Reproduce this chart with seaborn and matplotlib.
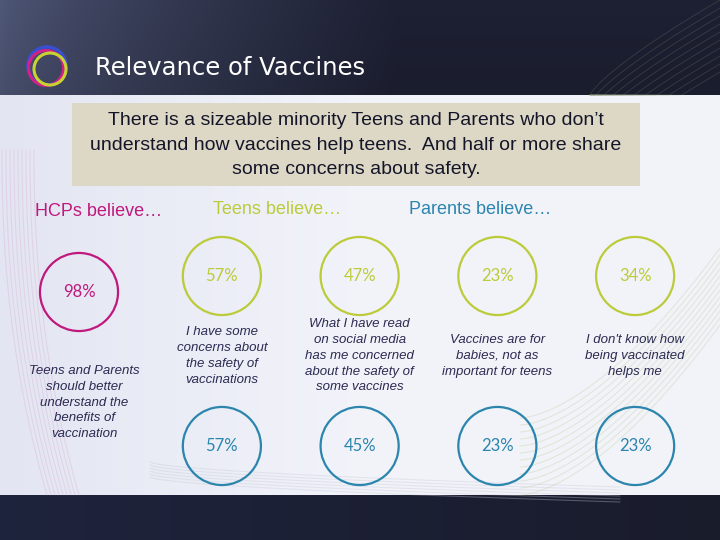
import numpy as np
import pandas as pd
import seaborn as sns
import matplotlib.pyplot as plt
from matplotlib.patches import Rectangle, Circle

# --- slide content ---
slide_title = "Relevance of Vaccines"
headline = ("There is a sizeable minority Teens and Parents who don\u2019t\n"
            "understand how vaccines help teens.  And half or more share\n"
            "some concerns about safety.")

hcp_header = "HCPs believe\u2026"
hcp_statement = "Teens and Parents\nshould better\nunderstand the\nbenefits of\nvaccination"
hcp_pct = [98]

groups = ["Teens", "Parents"]
group_headers = ["Teens believe\u2026", "Parents believe\u2026"]
statements = [
    "I have some\nconcerns about\nthe safety of\nvaccinations",
    "What I have read\non social media\nhas me concerned\nabout the safety of\nsome vaccines",
    "Vaccines are for\nbabies, not as\nimportant for teens",
    "I don't know how\nbeing vaccinated\nhelps me",
]
teens_pct = [57, 47, 23, 34]
parents_pct = [57, 45, 23, 23]

MAGENTA = "#c0187c"
LIME = "#bccb3a"
TEAL = "#2b85ad"
NAVY_TEXT = "#2b2b52"
palette = {"Teens": LIME, "Parents": TEAL}

sns.set_theme(style="white")
plt.rcParams['font.family'] = ['Liberation Sans', 'DejaVu Sans']

fig = plt.figure(figsize=(7.2, 5.4), dpi=100)

# --- background (pixel coords) ---
bg = fig.add_axes([0, 0, 1, 1])
bg.set_xlim(0, 720)
bg.set_ylim(540, 0)
bg.axis('off')

# light middle area
xs = np.linspace(0, 1, 720)
mid_l = np.array([0.89, 0.90, 0.95])
mid_r = np.array([0.95, 0.955, 0.98])
t = np.clip(xs / 0.5, 0, 1)[None, :, None]
mid = mid_l * (1 - t) + mid_r * t
mid = np.repeat(mid, 10, axis=0)
bg.imshow(mid, extent=(0, 720, 495, 95), aspect='auto', zorder=0)

# dark top band
top_l = np.array([0.30, 0.33, 0.45])
top_r = np.array([0.11, 0.12, 0.19])
t = (np.clip(xs / 0.55, 0, 1) ** 0.7)[None, :, None]
ys = np.linspace(0, 1, 95)[:, None, None]
top = top_l * (1 - t) + top_r * t
top = top * (1.05 - 0.1 * ys)
bg.imshow(np.clip(top, 0, 1), extent=(0, 720, 95, 0), aspect='auto', zorder=0)

# dark bottom band
bot_l = np.array([0.12, 0.14, 0.24])
bot_r = np.array([0.10, 0.11, 0.17])
t = xs[None, :, None]
bot = np.repeat(bot_l * (1 - t) + bot_r * t, 5, axis=0)
bg.imshow(bot, extent=(0, 720, 540, 495), aspect='auto', zorder=0)

# decorative swooshes
yy = np.linspace(150, 495, 100)
for k in range(9):
    xx = 2 + k * 4 + 45 * ((yy - 150) / 345) ** 2.2
    bg.plot(xx, yy, color="#d49cc4", alpha=0.25, lw=0.8, zorder=1)
xx = np.linspace(520, 720, 100)
for k in range(12):
    yv = 495 - 170 * ((xx - 520) / 200) ** 1.6 - k * 7
    bg.plot(xx, yv, color="#a9c07a", alpha=0.25, lw=0.8, zorder=1)
xx = np.linspace(150, 620, 100)
for k in range(6):
    yv = 462 + 25 * ((xx - 150) / 470) ** 0.6 + k * 3
    bg.plot(xx, yv, color="#c4c8d6", alpha=0.35, lw=0.8, zorder=1)
xx = np.linspace(590, 720, 60)
for k in range(10):
    yv = 95 - 95 * ((xx - 590) / 130) ** 0.8 + k * 8
    bg.plot(xx, np.clip(yv, 0, 95), color="#8a9a7a", alpha=0.25, lw=0.6, zorder=1)

# logo rings
bg.add_patch(Circle((47, 66), 19, fill=False, ec="#3a4fd0", lw=2.6, zorder=2))
bg.add_patch(Circle((46, 68), 17.5, fill=False, ec="#d0208a", lw=2.2, zorder=2))
bg.add_patch(Circle((50, 69), 16, fill=False, ec="#c9d233", lw=2.2, zorder=2))

bg.text(95, 68, slide_title, color="white", fontsize=17.5, family="DejaVu Sans",
        ha="left", va="center", zorder=3)

# headline box
bg.add_patch(Rectangle((72, 103), 568, 83, fc="#dcd8c5", ec="none", zorder=2))
bg.text(356, 145, headline, ha="center", va="center", fontsize=14,
        color="#15152a", linespacing=1.55, zorder=3)

# section headers
bg.text(99, 212, hcp_header, color=MAGENTA, fontsize=13, ha="center", va="center", zorder=3)
bg.text(277, 210, group_headers[0], color=LIME, fontsize=13, ha="center", va="center", zorder=3)
bg.text(480, 210, group_headers[1], color=TEAL, fontsize=13, ha="center", va="center", zorder=3)

# --- teens / parents circles ---
df = pd.DataFrame({
    "item": list(range(len(statements))) * 2,
    "group": [groups[0]] * len(teens_pct) + [groups[1]] * len(parents_pct),
    "pct": teens_pct + parents_pct,
})

ax = fig.add_axes([153 / 720, 9 / 540, 551 / 720, 340 / 540])
ax.patch.set_alpha(0)
sns.scatterplot(data=df, x="item", y="group", hue="group", palette=palette,
                s=3160, legend=False, ax=ax, zorder=3)
ax.set_xlim(-0.5, 3.5)
ax.set_ylim(1.5, -0.5)
ax.axis('off')

for row in df.itertuples():
    ax.text(row.item, groups.index(row.group), f"{row.pct}%", ha="center", va="center",
            fontsize=12, family=["Lato", "DejaVu Sans"], color=palette[row.group], zorder=4)
for i, s in enumerate(statements):
    ax.text(i, 0.47, s, ha="center", va="center", style="italic", fontsize=9.5,
            color=NAVY_TEXT, linespacing=1.42, zorder=4)

# --- HCP circle ---
hdf = pd.DataFrame({"item": [0], "group": ["HCPs"], "pct": hcp_pct})
hx = fig.add_axes([(79 - 68.85) / 720, (540 - 462) / 540, 137.7 / 720, 255 / 540])
hx.patch.set_alpha(0)
sns.scatterplot(data=hdf, x="item", y="item", color=MAGENTA, s=3160,
                legend=False, ax=hx, zorder=3)
hx.set_xlim(-0.5, 0.5)
hx.set_ylim(1.0, -0.5)
hx.axis('off')
hx.text(0, 0, f"{hcp_pct[0]}%", ha="center", va="center", fontsize=12,
        family=["Lato", "DejaVu Sans"], color=MAGENTA, zorder=4)
hx.text(0.04, 0.65, hcp_statement, ha="center", va="center", style="italic",
        fontsize=9.5, color=NAVY_TEXT, linespacing=1.42, zorder=4)

# hollow rings: move fill colour to the edge
for a in (ax, hx):
    for coll in a.collections:
        fc = coll.get_facecolors()
        coll.set_edgecolors(fc)
        coll.set_facecolors("none")
        coll.set_linewidths(1.6)

fig.savefig("out.png", dpi=100)
